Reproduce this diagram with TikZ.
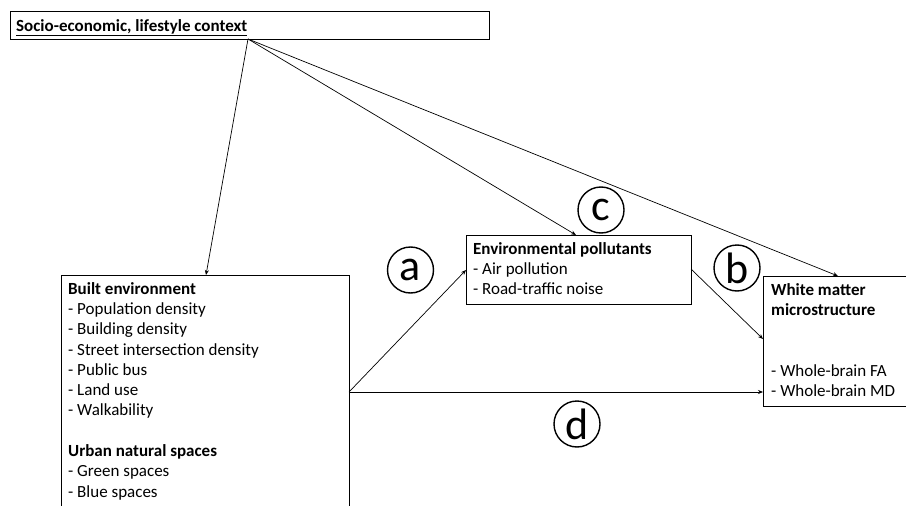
\documentclass[tikz,border=0pt]{standalone}
\usepackage{fontspec}
\setmainfont{Carlito}
\usetikzlibrary{arrows.meta}
\begin{document}
\begin{tikzpicture}[x=1pt,y=-1pt,
  box/.style={draw,line width=0.9pt,inner sep=0pt,anchor=north west},
  txt/.style={inner sep=0pt,align=left,font=\fontsize{17}{20.3}\selectfont},
  arr/.style={line width=0.7pt,-{Stealth[length=5pt,width=4pt]}},
  lbl/.style={draw,circle,line width=1.4pt,minimum size=46pt,inner sep=0pt,font=\fontsize{44}{44}\selectfont}]
\useasboundingbox (0,0) rectangle (906,506);
% top box
\node[box,minimum width=479pt,minimum height=28pt] (ctx) at (10,11) {};
\node[txt,anchor=base west] (ctxt) at (16,31) {\textbf{\underline{Socio-economic, lifestyle context}}};
\coordinate (src) at (248,39);
% built environment (open bottom)
\node[inner sep=0pt,minimum width=288pt,minimum height=231pt,anchor=north west] (be) at (61,275) {};
\draw[line width=0.9pt] (be.south west) -- (be.north west) -- (be.north east) -- (be.south east);
\node[txt,anchor=north west] (bet) at (68,282) {\textbf{Built environment}\\
- Population density\\
- Building density\\
- Street intersection density\\
- Public bus\\
- Land use\\
- Walkability\\[20.3pt]
\textbf{Urban natural spaces}\\
- Green spaces\\
- Blue spaces};
% environmental pollutants
\node[box,minimum width=225pt,minimum height=69pt] (ep) at (466,235) {};
\node[txt,anchor=north west] (ept) at (473,242) {\textbf{Environmental pollutants}\\
- Air pollution\\
- Road-traffic noise};
% white matter (open right)
\node[inner sep=0pt,minimum width=143pt,minimum height=130pt,anchor=north west] (wm) at (763,276) {};
\draw[line width=0.9pt] (wm.north east) -- (wm.north west) -- (wm.south west) -- (wm.south east);
\node[txt,anchor=north west] (wmt) at (771,283) {\textbf{White matter}\\
\textbf{microstructure}};
\node[txt,anchor=north west] (wmt2) at (771,364) {- Whole-brain FA\\
- Whole-brain MD};
% anchor points
\coordinate (beout) at (349,392);
\coordinate (epin) at (466,270);
\coordinate (epout) at (691,269);
\coordinate (wmin1) at (763,339);
\coordinate (wmin2) at (763,392);
% arrows
\draw[arr] (src) -- (be.north -| 206,0);
\draw[arr] (src) -- (576,235);
\draw[arr] (src) -- (838,276);
\draw[arr] (beout) -- (epin);
\draw[arr] (beout) -- (wmin2);
\draw[arr] (epout) -- (wmin1);
% labels
\node[lbl] (la) at (410.5,270) {a};
\node[lbl] (lb) at (737,268) {b};
\node[lbl] (lc) at (601,210) {c};
\node[lbl] (ld) at (577,424) {d};
\end{tikzpicture}
\end{document}
